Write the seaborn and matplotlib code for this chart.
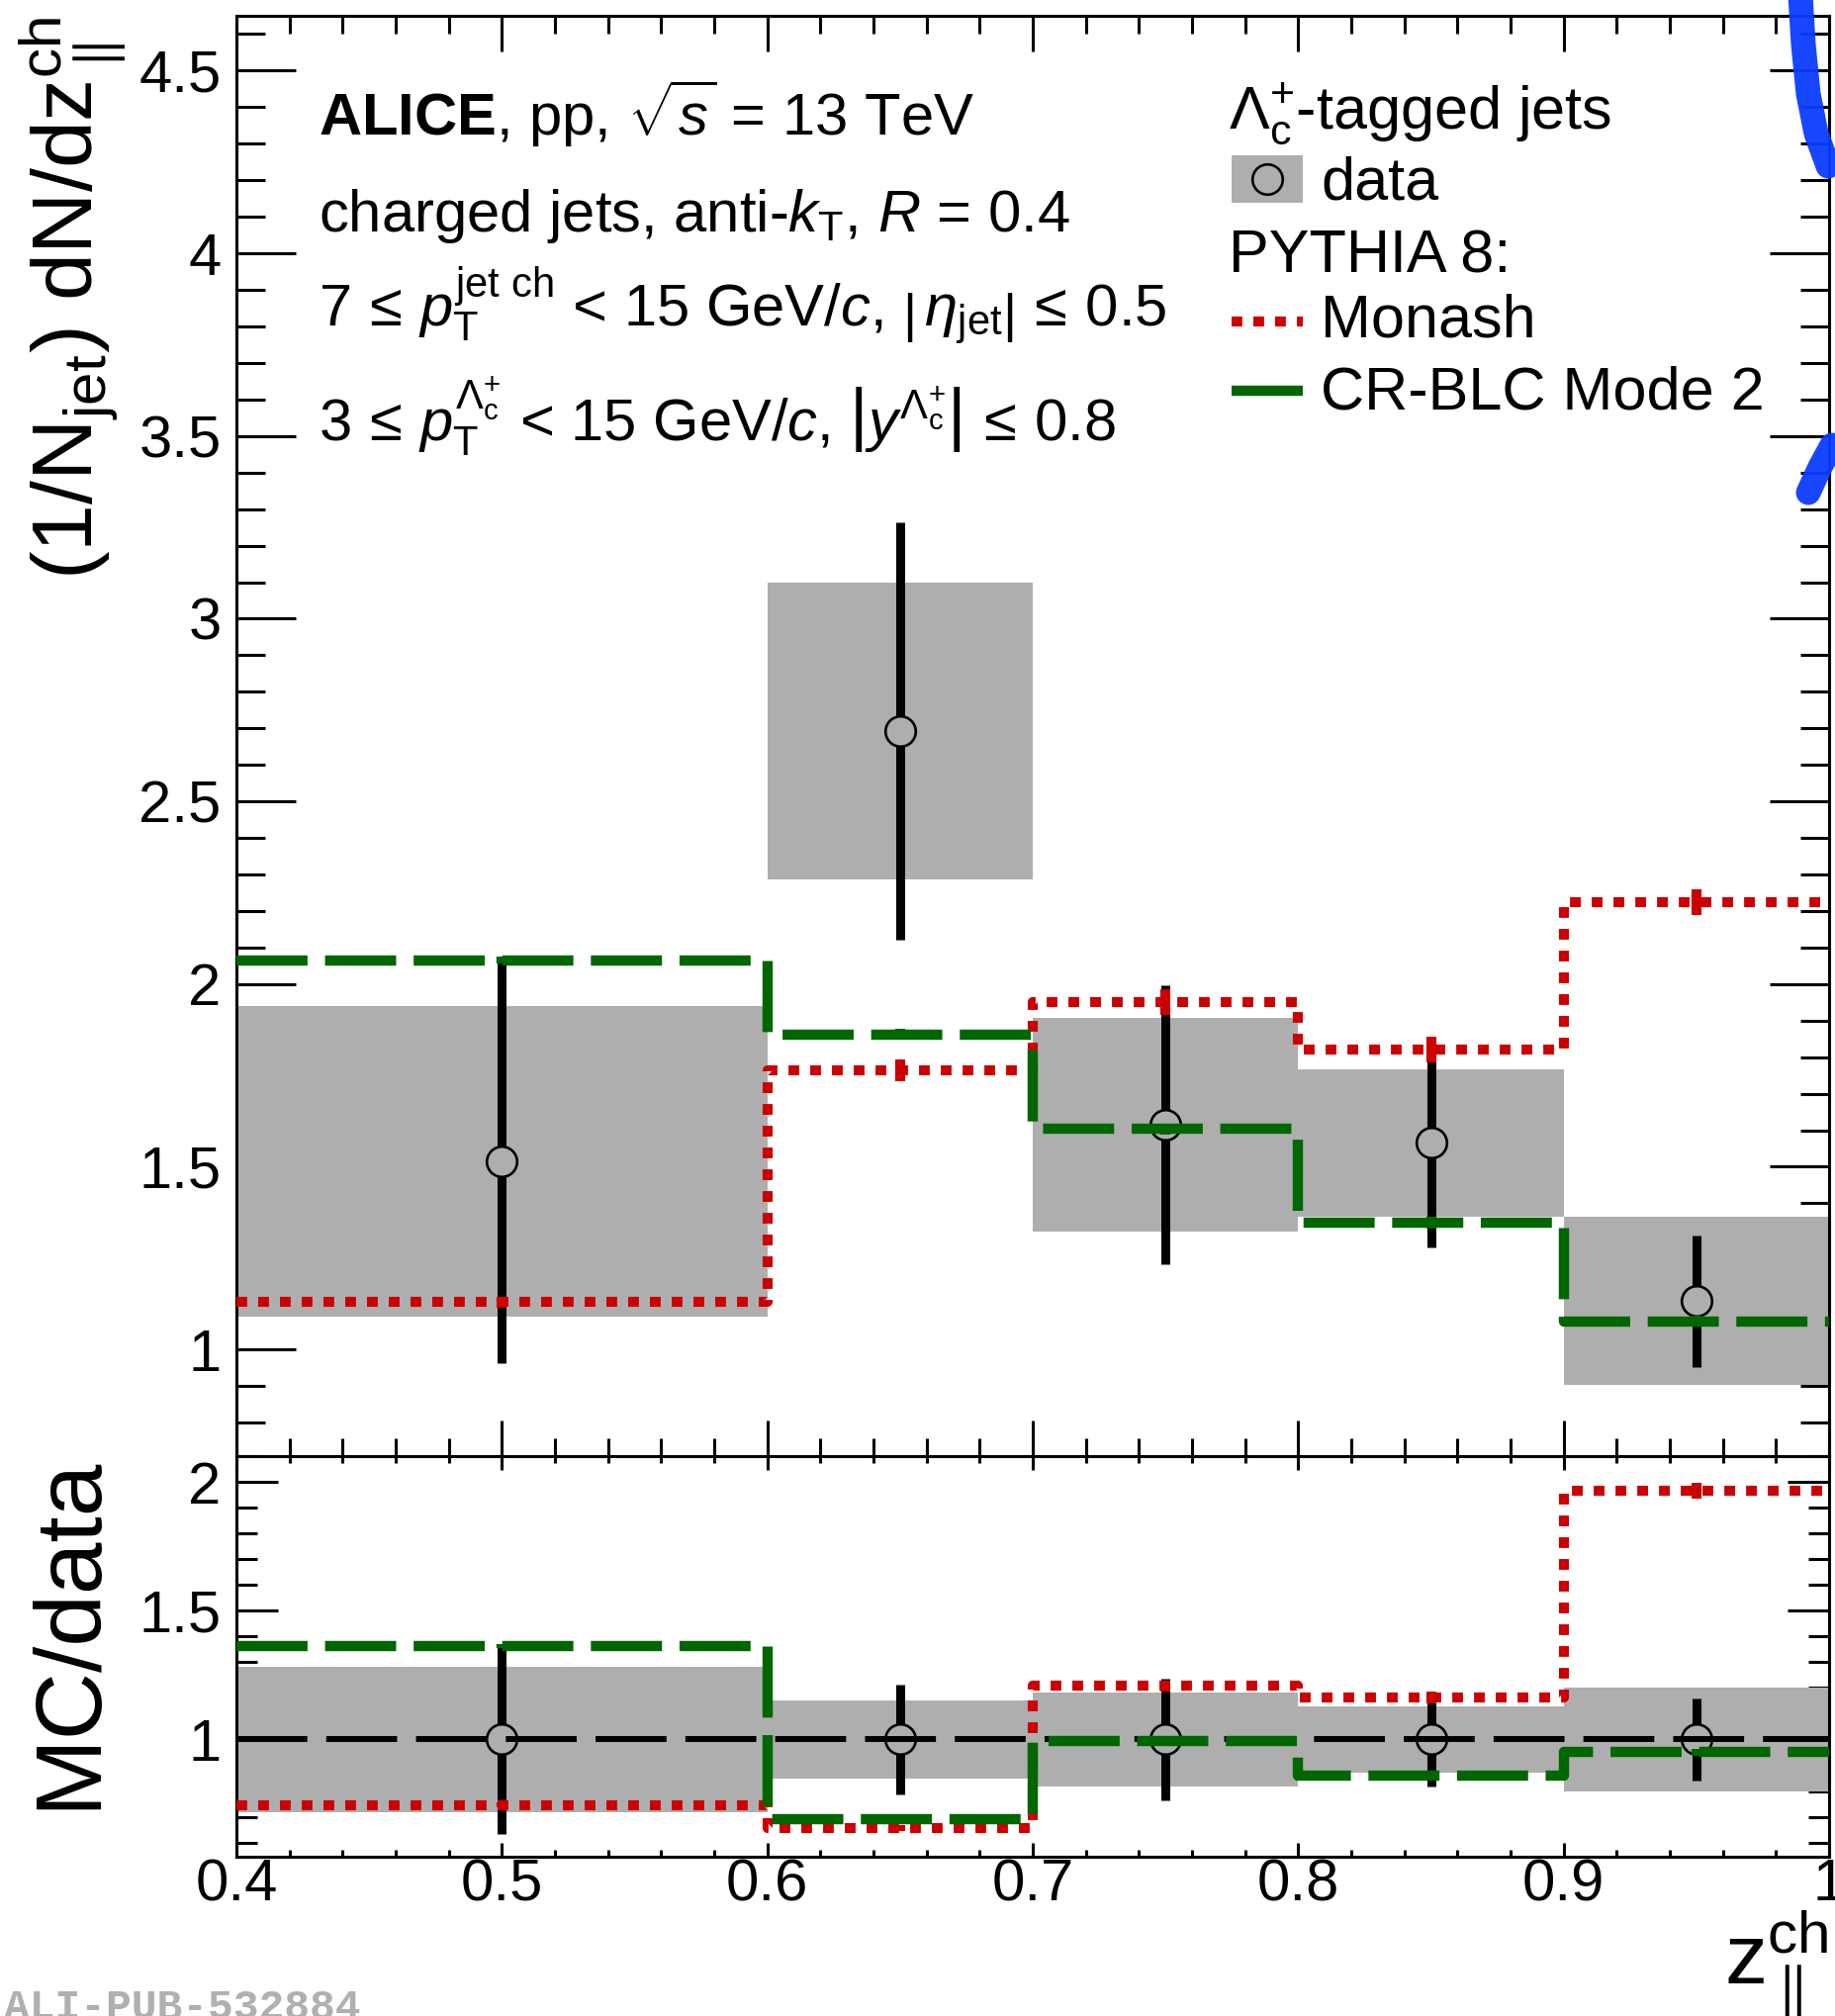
import numpy as np
import matplotlib
matplotlib.use("Agg")
import matplotlib.pyplot as plt
from matplotlib.patches import Rectangle
from matplotlib.lines import Line2D
from matplotlib.ticker import FixedLocator, MultipleLocator, FuncFormatter
import seaborn as sns

# ---------------------------------------------------------------- data
# z_parallel^ch binning
bin_edges = [0.4, 0.6, 0.7, 0.8, 0.9, 1.0]

# measured Lambda_c-tagged jet distribution
data_y = [1.515, 2.692, 1.615, 1.565, 1.132]
data_stat = [0.553, 0.571, 0.383, 0.286, 0.181]
data_syst = [0.425, 0.406, 0.292, 0.202, 0.230]

# PYTHIA 8 predictions
monash_y = [1.130, 1.765, 1.950, 1.820, 2.225]
monash_err = [0.015, 0.030, 0.035, 0.035, 0.035]
crblc_y = [2.065, 1.862, 1.603, 1.347, 1.077]
crblc_err = [0.010, 0.015, 0.015, 0.015, 0.015]

xtick_values = [0.4, 0.5, 0.6, 0.7, 0.8, 0.9, 1.0]
upper_ytick_values = [1, 1.5, 2, 2.5, 3, 3.5, 4, 4.5]
ratio_ytick_values = [1, 1.5, 2]

# ---------------------------------------------------------------- style
sns.set_theme(style="ticks")
plt.rcParams["font.family"] = ["Liberation Sans", "DejaVu Sans"]
plt.rcParams["mathtext.fontset"] = "custom"
plt.rcParams["mathtext.rm"] = "Liberation Sans"
plt.rcParams["mathtext.it"] = "Liberation Sans:italic"
plt.rcParams["mathtext.bf"] = "Liberation Sans:bold"
plt.rcParams["mathtext.sf"] = "Liberation Sans"
for key in ["text.color", "axes.labelcolor", "xtick.color", "ytick.color",
            "xtick.labelcolor", "ytick.labelcolor", "axes.edgecolor"]:
    plt.rcParams[key] = "black"

GRAY = "#aeaeae"
RED = "#cc0000"
GREEN = "#006600"
FRAME_LW = 2.2
TICK_FS = 43

edges = np.array(bin_edges)
centers = 0.5 * (edges[:-1] + edges[1:])
widths = np.diff(edges)
dy = np.array(data_y)
dstat = np.array(data_stat)
dsyst = np.array(data_syst)
mon = np.array(monash_y)
mon_e = np.array(monash_err)
crb = np.array(crblc_y)
crb_e = np.array(crblc_err)

W, H = 1855, 2038
fig = plt.figure(figsize=(W / 100, H / 100), dpi=100)
ax_top = fig.add_axes([239 / W, 1 - 1472 / H, 1610 / W, 1456 / H])
ax_rat = fig.add_axes([239 / W, 1 - 1877 / H, 1610 / W, 405 / H], sharex=ax_top)

fmt = FuncFormatter(lambda v, p: f"{v:g}")


def draw_data(ax, y, stat, syst):
    ax.bar(edges[:-1], 2 * syst, bottom=y - syst, width=widths, align="edge",
           color=GRAY, linewidth=0, zorder=1)
    ax.errorbar(centers, y, yerr=stat, fmt="none", ecolor="black",
                elinewidth=6.5, capsize=0, zorder=3)
    sns.scatterplot(x=centers, y=y, ax=ax, s=22 ** 2, marker="o", color=GRAY,
                    edgecolor="black", linewidth=1.9, zorder=4, legend=False)


def draw_model(ax, vals, errs, color, lw, ls):
    sns.lineplot(x=edges, y=np.append(vals, vals[-1]), ax=ax, color=color,
                 lw=lw, linestyle=ls, drawstyle="steps-post", estimator=None,
                 sort=False, legend=False, zorder=6, solid_capstyle="butt",
                 dash_capstyle="butt")
    ax.vlines(centers, vals - errs, vals + errs, color=color, lw=lw, zorder=6)


MON_LS = (0, (1.07, 1.1))
CRB_LS = (0, (6.9, 1.7))

# ---------------------------------------------------------------- upper panel
draw_data(ax_top, dy, dstat, dsyst)
draw_model(ax_top, mon, mon_e, RED, 7.3, MON_LS)
draw_model(ax_top, crb, crb_e, GREEN, 7.5, CRB_LS)

ax_top.set_xlim(0.4, 1.0)
ax_top.set_ylim(0.708, 4.65)

# ---------------------------------------------------------------- ratio panel
rel_stat = dstat / dy
rel_syst = dsyst / dy
ones = np.ones_like(dy)
draw_data(ax_rat, ones, rel_stat, rel_syst)
ax_rat.axhline(1.0, color="black", lw=4.3, linestyle=(0, (12, 3.2)), zorder=5)
draw_model(ax_rat, mon / dy, mon_e / dy, RED, 7.3, MON_LS)
draw_model(ax_rat, crb / dy, crb_e / dy, GREEN, 7.5, CRB_LS)
ax_rat.set_ylim(0.545, 2.1)

# ---------------------------------------------------------------- axes cosmetics
for ax, (xmaj, xmin), (ymaj, ymin) in [
    (ax_top, (26, 13), (43, 21)),
    (ax_rat, (10, 5), (30, 15)),
]:
    for s in ax.spines.values():
        s.set_linewidth(FRAME_LW)
        s.set_color("black")
    ax.xaxis.set_major_locator(FixedLocator(xtick_values))
    ax.xaxis.set_minor_locator(MultipleLocator(0.02))
    ax.yaxis.set_minor_locator(MultipleLocator(0.1))
    ax.tick_params(axis="x", which="major", direction="in", length=xmaj,
                   width=FRAME_LW, top=True, bottom=True, labelsize=TICK_FS,
                   pad=1, colors="black")
    ax.tick_params(axis="x", which="minor", direction="in", length=xmin,
                   width=FRAME_LW, top=True, bottom=True, colors="black")
    ax.tick_params(axis="y", which="major", direction="in", length=ymaj,
                   width=FRAME_LW, left=True, right=True, labelsize=TICK_FS,
                   pad=11, colors="black")
    ax.tick_params(axis="y", which="minor", direction="in", length=ymin,
                   width=FRAME_LW, left=True, right=True, colors="black")
    ax.yaxis.set_major_formatter(fmt)
    ax.xaxis.set_major_formatter(fmt)
    ax.set_xlabel("")
    ax.set_ylabel("")

ax_top.yaxis.set_major_locator(FixedLocator(upper_ytick_values))
ax_rat.yaxis.set_major_locator(FixedLocator(ratio_ytick_values))
ax_top.tick_params(axis="x", labelbottom=False)

ax_top.set_ylabel(r"$\mathrm{(1/N_{jet})\ dN/dz_{\parallel}^{ch}}$", fontsize=62,
                  loc="top", color="black")
ax_top.yaxis.set_label_coords(-0.0677, 1.0)
ax_rat.set_ylabel("MC/data", fontsize=68, loc="top", color="black")
ax_rat.yaxis.set_label_coords(-0.077, 1.0)
ax_rat.set_xlabel(r"$\mathrm{z}_{\parallel}^{\mathrm{ch}}$", fontsize=62,
                  loc="right", color="black")
ax_rat.xaxis.set_label_coords(1.0, -0.131)

# ---------------------------------------------------------------- text block
tx = 0.0516
ax_top.text(tx, 0.9172, r"$\mathbf{ALICE}$, pp, $\sqrt{s}$ = 13 TeV",
            transform=ax_top.transAxes, fontsize=43, va="baseline")
ax_top.text(tx, 0.8503, r"charged jets, anti-$k_{\mathrm{T}}$, $R$ = 0.4",
            transform=ax_top.transAxes, fontsize=43, va="baseline")
ax_top.text(tx, 0.7843,
            r"$7\,\leq\,p_{\mathrm{T}}^{\mathrm{jet\ ch}}$ < 15 GeV/$c$, "
            r"$\left|\,\eta_{\mathrm{jet}}\right|\,\leq\,0.5$",
            transform=ax_top.transAxes, fontsize=43, va="baseline")
ax_top.text(tx, 0.7047,
            r"$3\,\leq\,p_{\mathrm{T}}^{\Lambda_{\mathrm{c}}^{+}}$ < 15 GeV/$c$, "
            r"$\left|y^{\Lambda_{\mathrm{c}}^{+}}\right|\,\leq\,0.8$",
            transform=ax_top.transAxes, fontsize=43, va="baseline")

# ---------------------------------------------------------------- legend
T = ax_top.transAxes
ax_top.text(0.6227, 0.9217, r"$\Lambda_{\mathrm{c}}^{+}$-tagged jets",
            transform=T, fontsize=44, va="baseline")
ax_top.add_patch(Rectangle((0.6248, 0.8702), 0.0448, 0.0330, transform=T,
                           facecolor=GRAY, edgecolor="none", zorder=7))
ax_top.add_line(Line2D([0.6472], [0.8867], transform=T, marker="o",
                       markersize=22, markerfacecolor="none",
                       markeredgecolor="black", markeredgewidth=1.9, zorder=8))
ax_top.text(0.6807, 0.8726, "data", transform=T, fontsize=44, va="baseline")
ax_top.text(0.6227, 0.8217, "PYTHIA 8:", transform=T, fontsize=44, va="baseline")
ax_top.add_line(Line2D([0.6248, 0.6696], [0.7878, 0.7878], transform=T,
                       color=RED, lw=7.3, linestyle=MON_LS, dash_capstyle="butt"))
ax_top.text(0.6807, 0.7771, "Monash", transform=T, fontsize=44, va="baseline")
ax_top.add_line(Line2D([0.6248, 0.6696], [0.7397, 0.7397], transform=T,
                       color=GREEN, lw=7.5, solid_capstyle="butt"))
ax_top.text(0.6807, 0.7271, "CR-BLC Mode 2", transform=T, fontsize=44, va="baseline")

# ---------------------------------------------------------------- pen marks at the right edge
def fig_xy(px, py):
    return [p / W for p in px], [1 - q / H for q in py]

bx, by = fig_xy([1820, 1823, 1828, 1836, 1848], [-5, 45, 95, 135, 168])
fig.add_artist(Line2D(bx, by, transform=fig.transFigure, color="#0a3cff",
                      lw=18, solid_capstyle="round", alpha=0.95))
bx, by = fig_xy([1828, 1840, 1852], [498, 472, 450])
fig.add_artist(Line2D(bx, by, transform=fig.transFigure, color="#0a3cff",
                      lw=18, solid_capstyle="round", alpha=0.95))

# ---------------------------------------------------------------- figure id
fig.text(0.002, -0.0015, "ALI-PUB-532884", family="Liberation Mono",
         weight="bold", fontsize=31, color="#b0b0b0", va="baseline", ha="left")

fig.savefig("out.png", dpi=100, facecolor="white")
